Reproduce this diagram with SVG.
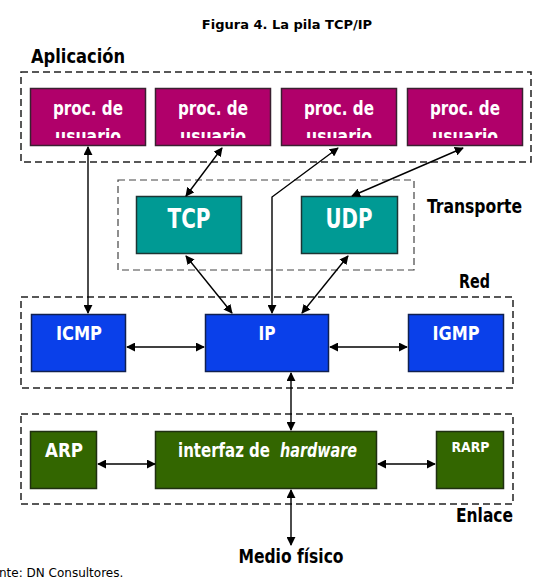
<svg xmlns="http://www.w3.org/2000/svg" width="541" height="583" viewBox="0 0 541 583">
<style>
.lbl{font-family:"DejaVu Sans Condensed","DejaVu Sans",sans-serif;font-weight:bold;fill:#000}
.ntx{font-family:"DejaVu Sans Condensed","DejaVu Sans",sans-serif;font-weight:bold;fill:#fff;text-anchor:middle}
.grp{fill:none;stroke:#222;stroke-width:1.5;stroke-dasharray:7 4}
.proc{fill:#b0006a;stroke:#3a2030;stroke-width:1.5}
.tr{fill:#009a94;stroke:#1c3534;stroke-width:1.5}
.net{fill:#0a40ea;stroke:#102050;stroke-width:1.5}
.lnk{fill:#336600;stroke:#1f2f10;stroke-width:1.5}
.con{fill:none;stroke:#000;stroke-width:1.4;marker-start:url(#ah);marker-end:url(#ah)}
</style>
<defs>
<marker id="ah" viewBox="0 0 10 10" refX="9" refY="5" markerWidth="9" markerHeight="9" markerUnits="userSpaceOnUse" orient="auto-start-reverse">
<path d="M0,0 L10,5 L0,10 z" fill="#000"/>
</marker>
<clipPath id="c1"><rect x="30" y="88" width="116" height="50"/></clipPath>
<clipPath id="c2"><rect x="155" y="88" width="116" height="50"/></clipPath>
<clipPath id="c3"><rect x="281" y="88" width="116" height="50"/></clipPath>
<clipPath id="c4"><rect x="407" y="88" width="116" height="50"/></clipPath>
</defs>
<rect width="541" height="583" fill="#fff"/>
<text x="287" y="29" text-anchor="middle" style="font-family:'DejaVu Sans',sans-serif;font-weight:bold;font-size:13px">Figura 4. La pila TCP/IP</text>

<g id="layers">
<rect class="grp" x="21" y="72" width="510" height="90"/>
<rect class="grp" x="118" y="180" width="296" height="90" style="stroke:#444;stroke-width:1.2"/>
<rect class="grp" x="21" y="297" width="492" height="91"/>
<rect class="grp" x="21" y="414" width="492" height="90"/>
<text class="lbl" x="31" y="63" font-size="20" textLength="94" lengthAdjust="spacingAndGlyphs">Aplicación</text>
<text class="lbl" x="427" y="213" font-size="20" textLength="95" lengthAdjust="spacingAndGlyphs">Transporte</text>
<text class="lbl" x="459" y="288" font-size="20" textLength="31" lengthAdjust="spacingAndGlyphs">Red</text>
<text class="lbl" x="456" y="522" font-size="20" textLength="57" lengthAdjust="spacingAndGlyphs">Enlace</text>
<text class="lbl" x="238.5" y="563" font-size="20" textLength="105" lengthAdjust="spacingAndGlyphs">Medio físico</text>
<text x="-1" y="577" style="font-family:'DejaVu Sans',sans-serif;font-size:12px;fill:#000">nte: DN Consultores.</text>
</g>

<g id="proc1"><rect class="proc" x="30.5" y="88.5" width="115" height="57"/>
<g clip-path="url(#c1)"><text class="ntx" x="88" y="115" font-size="19" textLength="70" lengthAdjust="spacingAndGlyphs">proc. de</text><text class="ntx" x="88" y="143" font-size="19" textLength="66" lengthAdjust="spacingAndGlyphs">usuario</text></g></g>
<g id="proc2"><rect class="proc" x="155.5" y="88.5" width="115" height="57"/>
<g clip-path="url(#c2)"><text class="ntx" x="213" y="115" font-size="19" textLength="70" lengthAdjust="spacingAndGlyphs">proc. de</text><text class="ntx" x="213" y="143" font-size="19" textLength="66" lengthAdjust="spacingAndGlyphs">usuario</text></g></g>
<g id="proc3"><rect class="proc" x="281.5" y="88.5" width="115" height="57"/>
<g clip-path="url(#c3)"><text class="ntx" x="339" y="115" font-size="19" textLength="70" lengthAdjust="spacingAndGlyphs">proc. de</text><text class="ntx" x="339" y="143" font-size="19" textLength="66" lengthAdjust="spacingAndGlyphs">usuario</text></g></g>
<g id="proc4"><rect class="proc" x="407.5" y="88.5" width="115" height="57"/>
<g clip-path="url(#c4)"><text class="ntx" x="465" y="115" font-size="19" textLength="70" lengthAdjust="spacingAndGlyphs">proc. de</text><text class="ntx" x="465" y="143" font-size="19" textLength="66" lengthAdjust="spacingAndGlyphs">usuario</text></g></g>

<g id="tcp"><rect class="tr" x="136.5" y="196.5" width="105" height="57"/><text class="ntx" x="189" y="228" font-size="26" textLength="43" lengthAdjust="spacingAndGlyphs">TCP</text></g>
<g id="udp"><rect class="tr" x="301.5" y="196.5" width="96" height="57"/><text class="ntx" x="349" y="228" font-size="26" textLength="47" lengthAdjust="spacingAndGlyphs">UDP</text></g>

<g id="icmp"><rect class="net" x="31.5" y="314.5" width="94" height="57"/><text class="ntx" x="79" y="340" font-size="20" textLength="46" lengthAdjust="spacingAndGlyphs">ICMP</text></g>
<g id="ip"><rect class="net" x="205.5" y="314.5" width="123" height="57"/><text class="ntx" x="267" y="340" font-size="20" textLength="17" lengthAdjust="spacingAndGlyphs">IP</text></g>
<g id="igmp"><rect class="net" x="408.5" y="314.5" width="95" height="57"/><text class="ntx" x="456" y="340" font-size="20" textLength="47" lengthAdjust="spacingAndGlyphs">IGMP</text></g>

<g id="arp"><rect class="lnk" x="30.5" y="431.5" width="66" height="57"/><text class="ntx" x="64" y="457" font-size="20" textLength="38" lengthAdjust="spacingAndGlyphs">ARP</text></g>
<g id="hw"><rect class="lnk" x="155.5" y="431.5" width="221" height="57"/><text class="ntx" x="178" y="457" font-size="20" style="text-anchor:start" textLength="92" lengthAdjust="spacingAndGlyphs">interfaz de</text><text class="ntx" x="280" y="457" font-size="20" font-style="italic" style="text-anchor:start" textLength="77" lengthAdjust="spacingAndGlyphs">hardware</text></g>
<g id="rarp"><rect class="lnk" x="436.5" y="431.5" width="67" height="57"/><text class="ntx" x="470.5" y="452" font-size="14" textLength="38" lengthAdjust="spacingAndGlyphs">RARP</text></g>

<g id="connectors">
<path class="con" d="M88,147 L88,313"/>
<path class="con" d="M222,148 L186,196"/>
<path class="con" d="M338,148 L272,197 L272,313"/>
<path class="con" d="M463,148 L352,196"/>
<path class="con" d="M186,256 L232,313"/>
<path class="con" d="M348,256 L302,313"/>
<path class="con" d="M127,347 L204,347"/>
<path class="con" d="M330,347 L407,347"/>
<path class="con" d="M291,373 L291,430"/>
<path class="con" d="M98,464 L155,464"/>
<path class="con" d="M378,464 L435,464"/>
<path class="con" d="M291,490 L291,545"/>
</g>
</svg>
